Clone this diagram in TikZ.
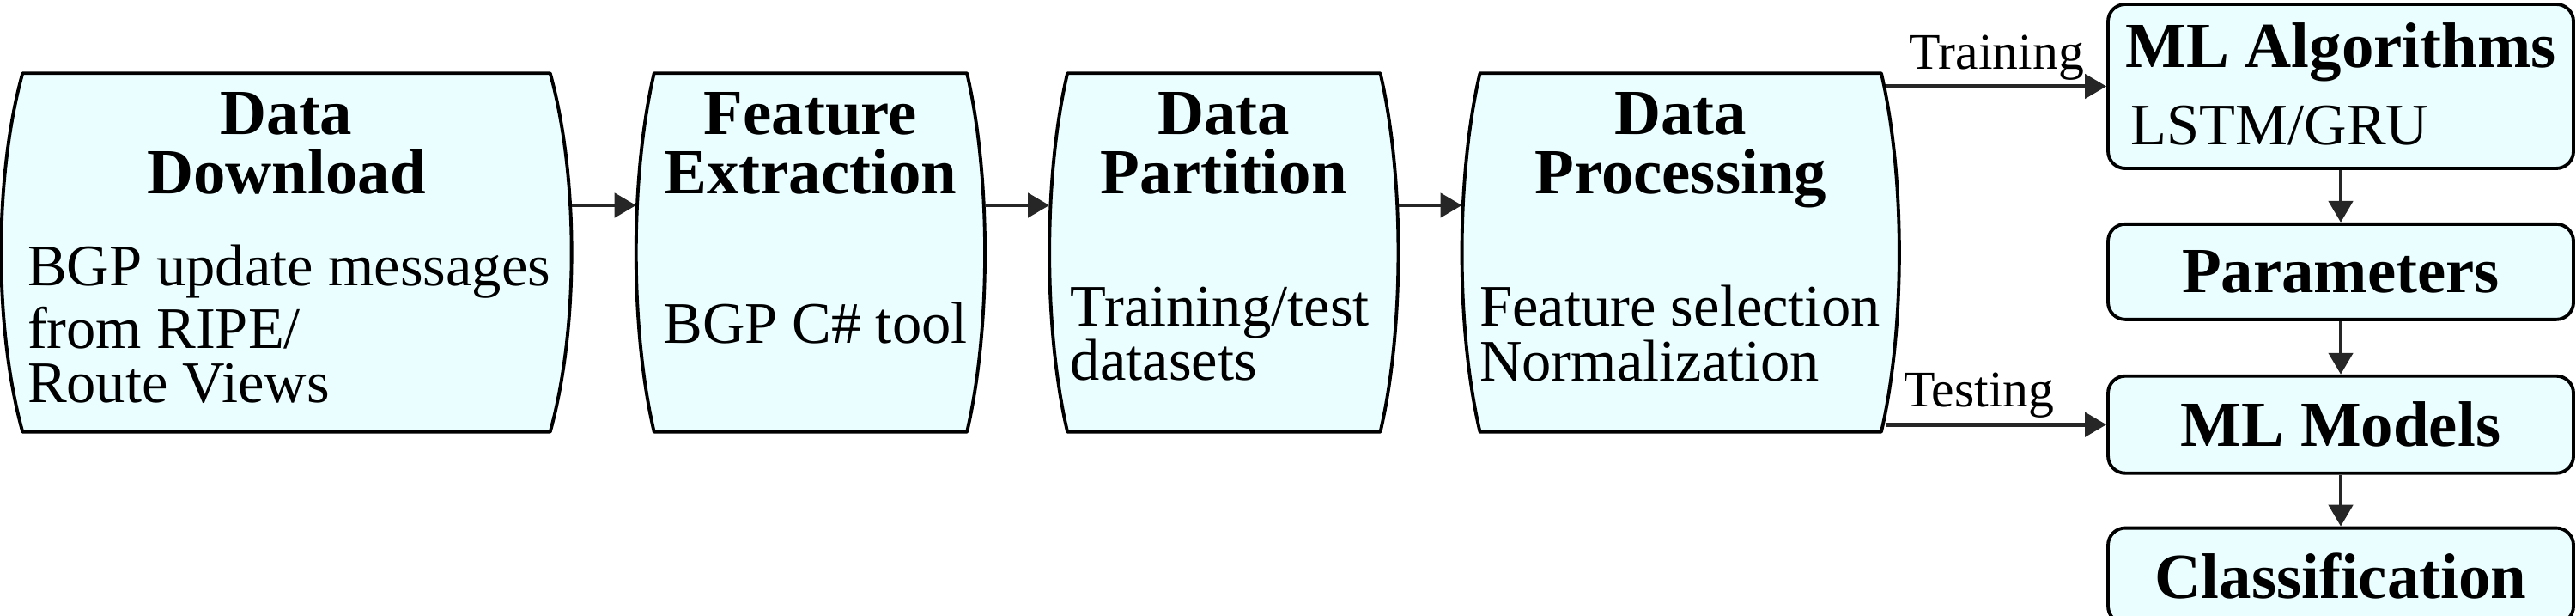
\documentclass[tikz,border=0pt]{standalone}
\usepackage{fontspec}
\setmainfont{Liberation Serif}
\usepackage{tikz}
\usetikzlibrary{arrows.meta,positioning,calc,backgrounds}
\definecolor{boxfill}{RGB}{234,254,255}
\newcommand{\titlefont}{\fontsize{21.3}{19.4}\selectfont\bfseries}
\newcommand{\bodyfont}{\fontsize{19.5}{16}\selectfont\lineskiplimit=-30pt}
\newcommand{\lblfont}{\fontsize{17}{17}\selectfont}

\begin{document}
\begin{tikzpicture}
\tikzstyle{barrel}=[rectangle, inner sep=0pt, minimum height=41.6mm]
\tikzstyle{outline}=[draw=black, line width=1.1pt, fill=boxfill, line join=round]
\tikzstyle{rect}=[rectangle, rounded corners=2mm, outline, minimum width=54.2mm, inner sep=0pt]
\tikzstyle{title}=[font=\titlefont, align=center, inner sep=0pt, anchor=north]
\tikzstyle{body}=[font=\bodyfont, align=left, inner sep=0pt, anchor=north west]
\tikzstyle{connect}=[-{Triangle[length=2.5mm,width=2.8mm]}, line width=1.3pt, draw=black!85]
\tikzstyle{lbl}=[font=\lblfont, midway, above, inner sep=1.5pt]

  \useasboundingbox (0,0) rectangle (30,7.17);

  % pipeline boxes
  \node[barrel, minimum width=66.3mm] (dl) at (3.335,4.23)     {};
  \node[barrel, minimum width=40.5mm] (fe) [right=7.5mm of dl] {};
  \node[barrel, minimum width=40.5mm] (dp) [right=7.5mm of fe] {};
  \node[barrel, minimum width=50.8mm] (pr) [right=7.4mm of dp] {};

  \begin{scope}[on background layer]
  \foreach \n/\b in {dl/2.5mm, fe/2.1mm, dp/2.1mm, pr/2.1mm}
    \draw[outline] ([xshift=\b]\n.north west) -- ([xshift=-\b]\n.north east)
      .. controls ([xshift=0.33*\b,yshift=-12mm]\n.north east) and ([xshift=0.33*\b,yshift=12mm]\n.south east) .. ([xshift=-\b]\n.south east)
      -- ([xshift=\b]\n.south west)
      .. controls ([xshift=-0.33*\b,yshift=12mm]\n.south west) and ([xshift=-0.33*\b,yshift=-12mm]\n.north west) .. cycle;
  \end{scope}

  \node[title] (dlt) at ([yshift=-2.2mm]dl.north) {Data\\Download};
  \node[title] (fet) at ([yshift=-2.2mm]fe.north) {Feature\\Extraction};
  \node[title] (dpt) at ([yshift=-2.2mm]dp.north) {Data\\Partition};
  \node[title] (prt) at ([yshift=-2.2mm]pr.north) {Data\\Processing};

  \node[body] (dlb) at ([xshift=3.0mm,yshift=-19.9mm]dl.north west) {BGP update messages\\[4.8pt]from RIPE/\\[1.9pt]Route Views};
  \node[body] (feb) at ([xshift=3.1mm,yshift=-26.6mm]fe.north west) {BGP C\# tool};
  \node[body] (dpb) at ([xshift=2.4mm,yshift=-24.8mm]dp.north west) {Training/test\\[1.9pt]datasets};
  \node[body] (prb) at ([xshift=2.0mm,yshift=-24.6mm]pr.north west) {Feature selection\\[2.2pt]Normalization};

  % learning column
  \node[rect, minimum height=19.1mm] (alg) at (27.26,6.165)      {};
  \node[rect, minimum height=11.1mm] (par) [below=6.1mm of alg] {\titlefont Parameters};
  \node[rect, minimum height=11.3mm] (mdl) [below=6.2mm of par] {\titlefont ML Models};
  \node[rect, minimum height=11.1mm] (cls) [below=6.0mm of mdl] {\titlefont Classification};

  \node[title] (algt) at ([yshift=-2.3mm]alg.north) {ML Algorithms};
  \node[body] (algb) at ([xshift=2.8mm,yshift=-11.9mm]alg.north west) {LSTM/GRU};

  \draw[connect] (dl.east |- 0,4.78) -- (fe.west |- 0,4.78);
  \draw[connect] (fe.east |- 0,4.78) -- (dp.west |- 0,4.78);
  \draw[connect] (dp.east |- 0,4.78) -- (pr.west |- 0,4.78);

  \draw[connect] ([xshift=-1.5mm]pr.east |- alg.west) -- (alg.west) node[lbl] {Training};
  \draw[connect] ([xshift=-1.5mm]pr.east |- mdl.west) -- (mdl.west) node[lbl, xshift=-2mm] {Testing};

  \draw[connect] (alg) -- (par);
  \draw[connect] (par) -- (mdl);
  \draw[connect] (mdl) -- (cls);

\end{tikzpicture}
\end{document}
